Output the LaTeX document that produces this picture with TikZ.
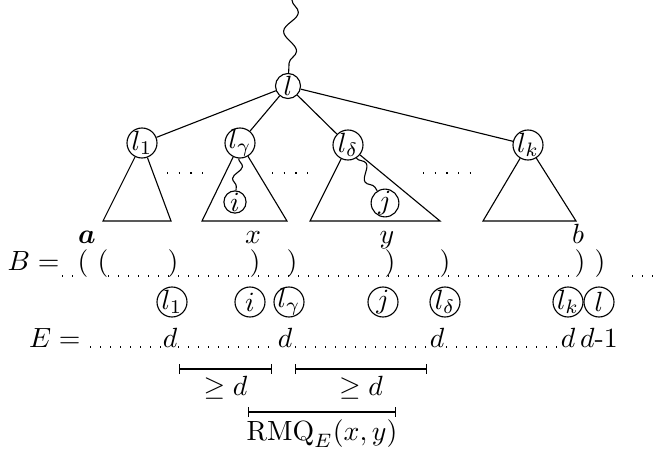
\documentclass[tikz,border=0pt]{standalone}
\usepackage{amsmath}
\usepackage{amssymb}
\usetikzlibrary{arrows.meta, positioning, decorations.pathmorphing}
\tikzset{
  vtx/.style     = {circle, draw, inner sep=-0.8pt, minimum size=10.8pt},
  wavy/.style    = {decorate, decoration={snake, amplitude=1.6pt, segment length=9pt}},
  dotline/.style = {line width=0.5pt, dash pattern=on 0.5pt off 3.1pt},
  sparse/.style  = {line width=0.5pt, dash pattern=on 0.5pt off 3.7pt},
  gapbar/.style  = {{Bar[width=3.6pt]}-{Bar[width=3.6pt]}, line width=0.5pt},
}

\begin{document}
\begin{tikzpicture}[
					x=0.36pt, y=-0.36pt,
					lbl/.style={inner sep=0pt, anchor=base},
					barlbl/.style={midway, below, inner sep=2.5pt}
					]
					\useasboundingbox (0,0) rectangle (662,454);

					% the tree
					\coordinate (top) at (292,0);
					\node[vtx, minimum size=9pt] (l) at (288,86) {$l$};
					\node[vtx] (l1) at (142,143) {$l_1$};
					\node[vtx] (lg) at (240,143) {$l_\gamma$};
					\node[vtx] (ld) at (348,145) {$l_\delta$};
					\node[vtx] (lk) at (528,145) {$l_k$};
					\draw[wavy, decoration={amplitude=2.5pt, segment length=14pt}]
					(top) -- (l);
					\foreach \c in {l1,lg,ld,lk}
					\draw (l) -- (\c);

					\coordinate (b1l) at (103,221); \coordinate (b1r) at (171,221);
					\coordinate (bgl) at (202,221); \coordinate (bgr) at (287,221);
					\coordinate (bdl) at (310,221); \coordinate (bdr) at (440,221);
					\coordinate (bkl) at (483,221); \coordinate (bkr) at (576,221);
					\foreach \c/\p/\q in {l1/b1l/b1r, lg/bgl/bgr, ld/bdl/bdr, lk/bkl/bkr}
					\draw (\c) -- (\p) -- (\q) -- (\c);

					\node[vtx, minimum size=8pt] (i) at (235,202) {$i$};
					\node[vtx, minimum size=10pt] (j) at (385,203) {$j$};
					\draw[wavy] (lg) -- (i);
					\draw[wavy, decoration={amplitude=2pt, segment length=11pt}] (ld) -- (j);

					\draw[sparse] (167,173) -- (203,173);
					\draw[sparse] (272,173) -- (308,173);
					\draw[sparse] (423,173) -- (481,173);

					% the string B
					\node[lbl] (ta) at (87,243) {$\boldsymbol{a}$};
					\node[lbl] (tx) at (253,243) {$x$};
					\node[lbl] (ty) at (387,243) {$y$};
					\node[lbl] (tb) at (578,243) {$b$};

					\node[lbl, anchor=base east] (B) at (60,270) {$B =$};
					\node[lbl] (o1) at (83,270) {(};
					\node[lbl] (o2) at (103,270) {(};
					\foreach \x [count=\n] in {173,255,292,390,445,580,600}
					\node[lbl] (c\n) at (\x,270) {)};
					\draw[dotline] (62,276) -- (79,276);
					\draw[dotline] (108,276) -- (575,276);
					\draw[dotline] (632,276) -- (656,276);

					\foreach \x/\t/\nm in {172/l_1/r1, 250/i/ri, 289/l_\gamma/rg, 383/j/rj,
						445/l_\delta/rd, 568/l_k/rk, 599/l/rl}
					\node[vtx] (\nm) at (\x,302) {$\t$};

					% the array E
					\node[lbl, anchor=base east] (E) at (81,347) {$E =$};
					\node[lbl] (d1) at (170,347) {$d$};
					\node[lbl] (d2) at (285,347) {$d$};
					\node[lbl] (d3) at (437,347) {$d$};
					\node[lbl] (d4) at (568,347) {$d$};
					\node[lbl] (dm) at (599,347) {$d$-1};
					\draw[dotline] (90,347) -- (161,347);
					\draw[dotline] (178,347) -- (277,347);
					\draw[dotline] (295,347) -- (430,347);
					\draw[dotline] (446,347) -- (560,347);

					\coordinate (g1a) at (179,369); \coordinate (g1b) at (272,369);
					\coordinate (g2a) at (295,369); \coordinate (g2b) at (427,369);
					\coordinate (g3a) at (248,412); \coordinate (g3b) at (396,412);
					\draw[gapbar] (g1a) -- (g1b) node[barlbl] {$\geq d$};
					\draw[gapbar] (g2a) -- (g2b) node[barlbl] {$\geq d$};
					\draw[gapbar] (g3a) -- (g3b) node[barlbl] {$\mathrm{RMQ}_E(x,y)$};
				\end{tikzpicture}
\end{document}
